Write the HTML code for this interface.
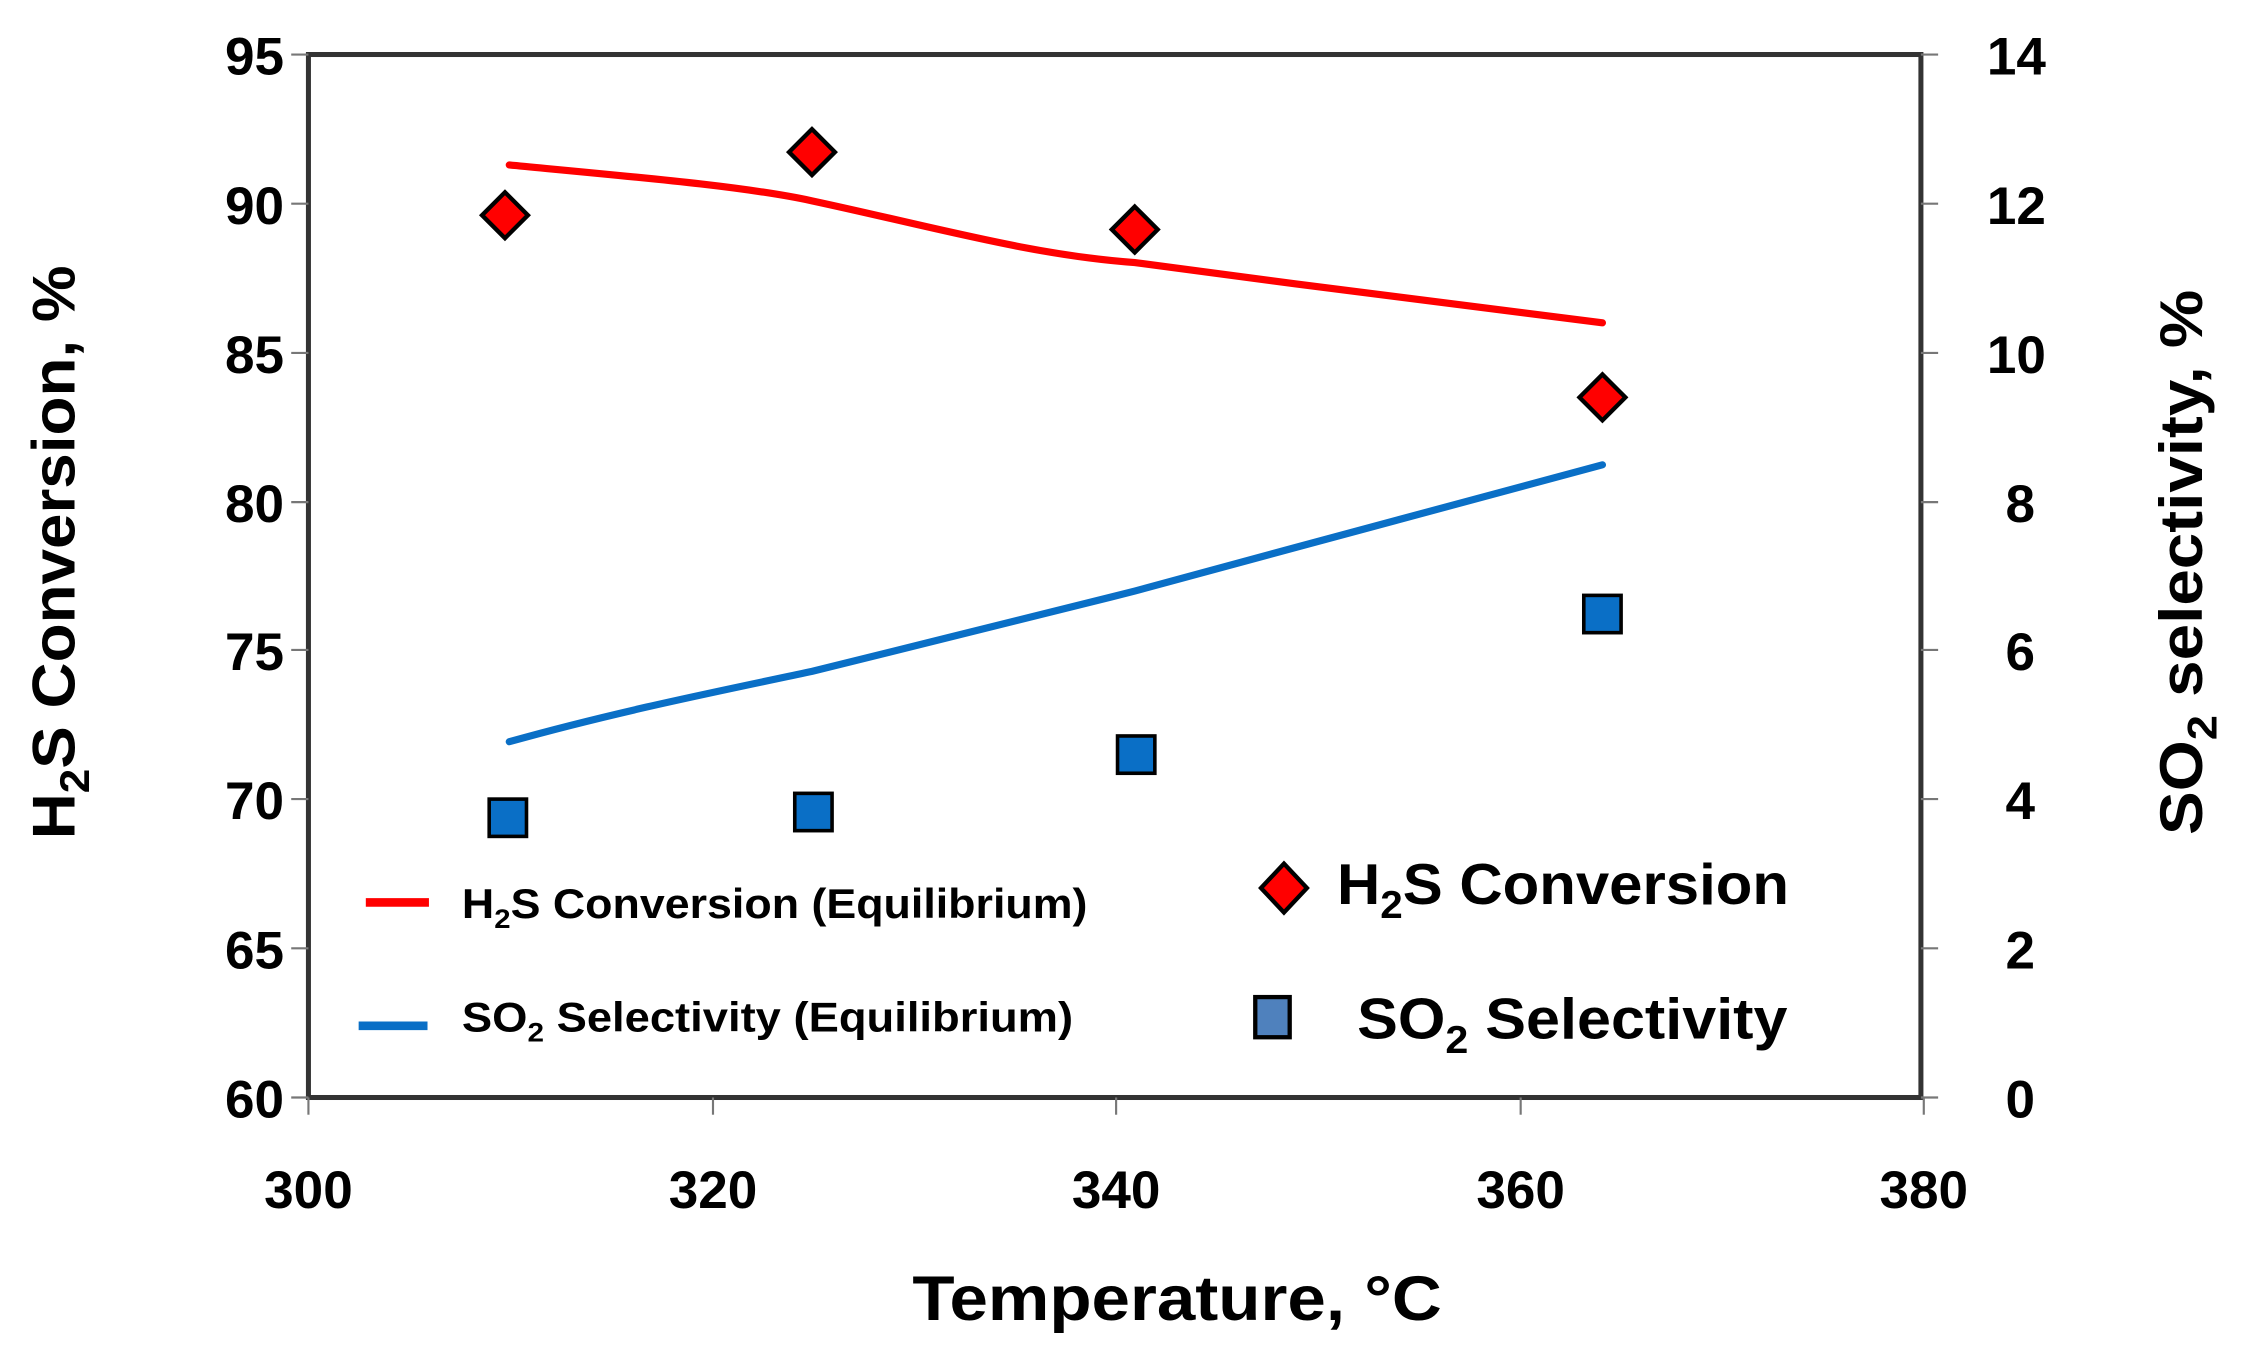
<!DOCTYPE html>
<html><head><style>html,body{margin:0;padding:0;background:#fff}svg{display:block}text{font-family:"Liberation Sans",sans-serif;font-weight:bold}</style></head>
<body>
<svg width="2248" height="1351" viewBox="0 0 1567 941.7" preserveAspectRatio="none" xmlns="http://www.w3.org/2000/svg">
<rect x="0" y="0" width="1567" height="941.7" fill="#fff"/>
<rect x="215" y="38" width="1124" height="727" fill="none" stroke="#333" stroke-width="3.5"/>
<g stroke="#777" stroke-width="1.5">
<line x1="203" y1="38" x2="215" y2="38"/><line x1="203" y1="142" x2="215" y2="142"/><line x1="203" y1="246" x2="215" y2="246"/><line x1="203" y1="350" x2="215" y2="350"/><line x1="203" y1="453" x2="215" y2="453"/><line x1="203" y1="557" x2="215" y2="557"/><line x1="203" y1="661" x2="215" y2="661"/><line x1="203" y1="765" x2="215" y2="765"/>
<line x1="1339" y1="38" x2="1351" y2="38"/><line x1="1339" y1="142" x2="1351" y2="142"/><line x1="1339" y1="246" x2="1351" y2="246"/><line x1="1339" y1="350" x2="1351" y2="350"/><line x1="1339" y1="453" x2="1351" y2="453"/><line x1="1339" y1="557" x2="1351" y2="557"/><line x1="1339" y1="661" x2="1351" y2="661"/><line x1="1339" y1="765" x2="1351" y2="765"/>
<line x1="215" y1="765" x2="215" y2="777"/><line x1="497" y1="765" x2="497" y2="777"/><line x1="778" y1="765" x2="778" y2="777"/><line x1="1060" y1="765" x2="1060" y2="777"/><line x1="1341" y1="765" x2="1341" y2="777"/>
</g>
<g font-size="37" font-weight="normal" text-anchor="end">
<text x="198" y="52">95</text><text x="198" y="156">90</text><text x="198" y="260">85</text><text x="198" y="364">80</text><text x="198" y="467">75</text><text x="198" y="571">70</text><text x="198" y="675">65</text><text x="198" y="779">60</text>
</g>
<g font-size="37" text-anchor="start">
<text x="1385" y="52">14</text><text x="1385" y="156">12</text><text x="1385" y="260">10</text><text x="1398" y="364">8</text><text x="1398" y="467">6</text><text x="1398" y="571">4</text><text x="1398" y="675">2</text><text x="1398" y="779">0</text>
</g>
<g font-size="37" text-anchor="middle">
<text x="215" y="842">300</text><text x="497" y="842">320</text><text x="778" y="842">340</text><text x="1060" y="842">360</text><text x="1341" y="842">380</text>
</g>
<text x="636" y="920" font-size="44" textLength="369" lengthAdjust="spacingAndGlyphs">Temperature,  °C</text>
<text transform="translate(52,585) rotate(-90)" font-size="42" textLength="400" lengthAdjust="spacingAndGlyphs">H<tspan font-size="29" dy="10">2</tspan><tspan dy="-10">S Conversion, %</tspan></text>
<text transform="translate(1535,582) rotate(-90)" font-size="42" textLength="380" lengthAdjust="spacingAndGlyphs">SO<tspan font-size="29" dy="10">2</tspan><tspan dy="-10"> selectivity, %</tspan></text>
<path d="M355,115 C450,124 520,130 566,140 C650,158 720,178 791,183 C900,198 1000,210 1117,225" fill="none" stroke="#f00" stroke-width="5" stroke-linecap="round"/>
<path d="M355,517 C430,496 500,482 566,468 C650,447 720,430 791,412 C900,382 1000,356 1117,324" fill="none" stroke="#0a6fc6" stroke-width="5" stroke-linecap="round"/>
<g fill="#f00" stroke="#000" stroke-width="3">
<polygon points="352,134 368,150 352,166 336,150"/><polygon points="566,90 582,106 566,122 550,106"/><polygon points="791,144 807,160 791,176 775,160"/><polygon points="1117,261 1133,277 1117,293 1101,277"/>
</g>
<g fill="#0a6fc6" stroke="#000" stroke-width="2.5">
<rect x="341" y="557" width="26" height="26"/><rect x="554" y="553" width="26" height="26"/><rect x="779" y="513" width="26" height="26"/><rect x="1104" y="415" width="26" height="26"/>
</g>
<line x1="255" y1="629" x2="299" y2="629" stroke="#f00" stroke-width="6"/>
<line x1="250" y1="715" x2="298" y2="715" stroke="#0a6fc6" stroke-width="6"/>
<text x="322" y="640" font-size="29" textLength="436" lengthAdjust="spacingAndGlyphs">H<tspan font-size="19" dy="7">2</tspan><tspan dy="-7">S Conversion (Equilibrium)</tspan></text>
<text x="322" y="719" font-size="29" textLength="426" lengthAdjust="spacingAndGlyphs">SO<tspan font-size="19" dy="7">2</tspan><tspan dy="-7"> Selectivity (Equilibrium)</tspan></text>
<polygon points="895,602 911,619 895,636 879,619" fill="#f00" stroke="#000" stroke-width="3"/>
<rect x="875" y="695" width="24" height="28" fill="#4f81bd" stroke="#000" stroke-width="3"/>
<text x="932" y="630" font-size="40" textLength="315" lengthAdjust="spacingAndGlyphs">H<tspan font-size="27" dy="10">2</tspan><tspan dy="-10">S Conversion</tspan></text>
<text x="946" y="724" font-size="40" textLength="300" lengthAdjust="spacingAndGlyphs">SO<tspan font-size="27" dy="10">2</tspan><tspan dy="-10"> Selectivity</tspan></text>
</svg>
</body></html>
